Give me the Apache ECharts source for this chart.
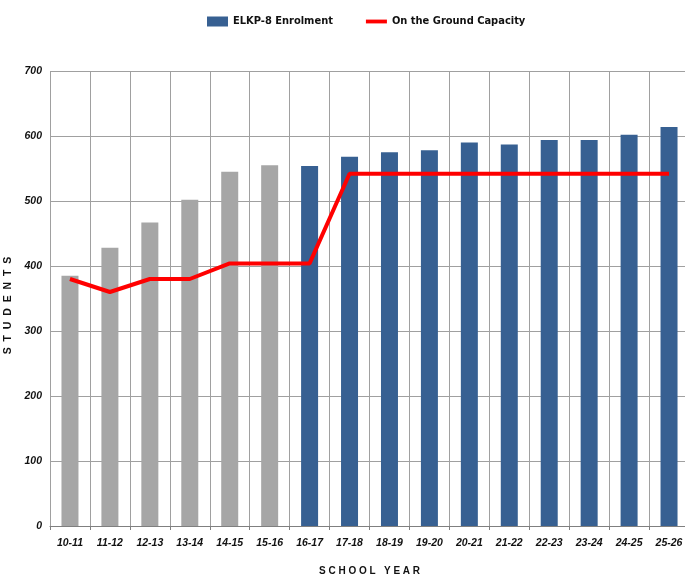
<!DOCTYPE html>
<html>
<head>
<meta charset="utf-8">
<script src="https://cdn.jsdelivr.net/npm/echarts@6/dist/echarts.min.js"></script>
<style>
  html, body { margin: 0; padding: 0; background: #fff; }
  #chart { width: 685px; height: 578px; }
</style>
</head>
<body>
<div id="chart"></div>
<script>
// school years on the x axis
var years = ["10-11", "11-12", "12-13", "13-14", "14-15", "15-16", "16-17", "17-18",
  "18-19", "19-20", "20-21", "21-22", "22-23", "23-24", "24-25", "25-26"];
// enrolment per year (first 6 are actuals, drawn grey)
var enrolment = [385, 428, 467, 502, 545, 555, 554, 568, 575, 578, 590, 587, 594, 594, 602, 614];
// on the ground capacity
var capacity = [380, 360, 380, 380, 404, 404, 404, 542, 542, 542, 542, 542, 542, 542, 542, 542];
var actualYears = 6;

var narrow = "'DejaVu Sans Condensed', 'Liberation Sans Narrow', sans-serif";
var arial = "'Liberation Sans', Arial, sans-serif";

var chart = echarts.init(document.getElementById("chart"));
var option = {
  animation: false,
  legend: {
    left: 202,
    top: 11,
    itemWidth: 21,
    itemHeight: 10,
    itemGap: 33,
    textStyle: { fontFamily: narrow, fontWeight: "bold", fontSize: 11, color: "#111" },
    data: [
      { name: "ELKP-8 Enrolment", icon: "rect" },
      { name: "On the Ground Capacity", icon: "path://M0,0 L22,0 L22,4 L0,4 Z" }
    ]
  },
  grid: { left: 50, right: -4, top: 71, bottom: 52, outerBoundsMode: "none" },
  xAxis: {
    type: "category",
    data: years,
    boundaryGap: true,
    name: "S C H O O L   Y E A R",
    nameLocation: "middle",
    nameGap: 40,
    nameTextStyle: { fontFamily: arial, fontWeight: "bold", fontSize: 10, color: "#111" },
    axisLine: { lineStyle: { color: "#7f7f7f", width: 1 } },
    axisTick: { show: true, length: 4, lineStyle: { color: "#7f7f7f" } },
    splitLine: { show: true, lineStyle: { color: "#a0a0a0", width: 1 } },
    axisLabel: {
      margin: 12,
      interval: 0,
      fontFamily: arial,
      fontStyle: "italic",
      fontWeight: "bold",
      fontSize: 10.5,
      color: "#111"
    }
  },
  yAxis: {
    type: "value",
    min: 0,
    max: 700,
    interval: 100,
    name: "S  T  U  D  E  N  T  S",
    nameLocation: "middle",
    nameGap: 36,
    nameRotate: 90,
    nameTextStyle: { fontFamily: arial, fontWeight: "bold", fontSize: 10.5, color: "#111", padding: [0, 14, 0, 0] },
    axisLine: { show: false },
    axisTick: { show: false },
    splitLine: { lineStyle: { color: "#a0a0a0", width: 1 } },
    axisLabel: {
      margin: 8,
      fontFamily: arial,
      fontStyle: "italic",
      fontWeight: "bold",
      fontSize: 10.5,
      color: "#111"
    }
  },
  series: [
    {
      name: "ELKP-8 Enrolment",
      type: "bar",
      barWidth: 17,
      itemStyle: { color: "#376092" },
      data: enrolment.map(function (v, i) {
        return i < actualYears ? { value: v, itemStyle: { color: "#a6a6a6" } } : v;
      })
    },
    {
      name: "On the Ground Capacity",
      type: "line",
      symbol: "none",
      z: 5,
      lineStyle: { color: "#ff0000", width: 4 },
      itemStyle: { color: "#ff0000" },
      data: capacity
    }
  ]
};
chart.setOption(option);
</script>
</body>
</html>
